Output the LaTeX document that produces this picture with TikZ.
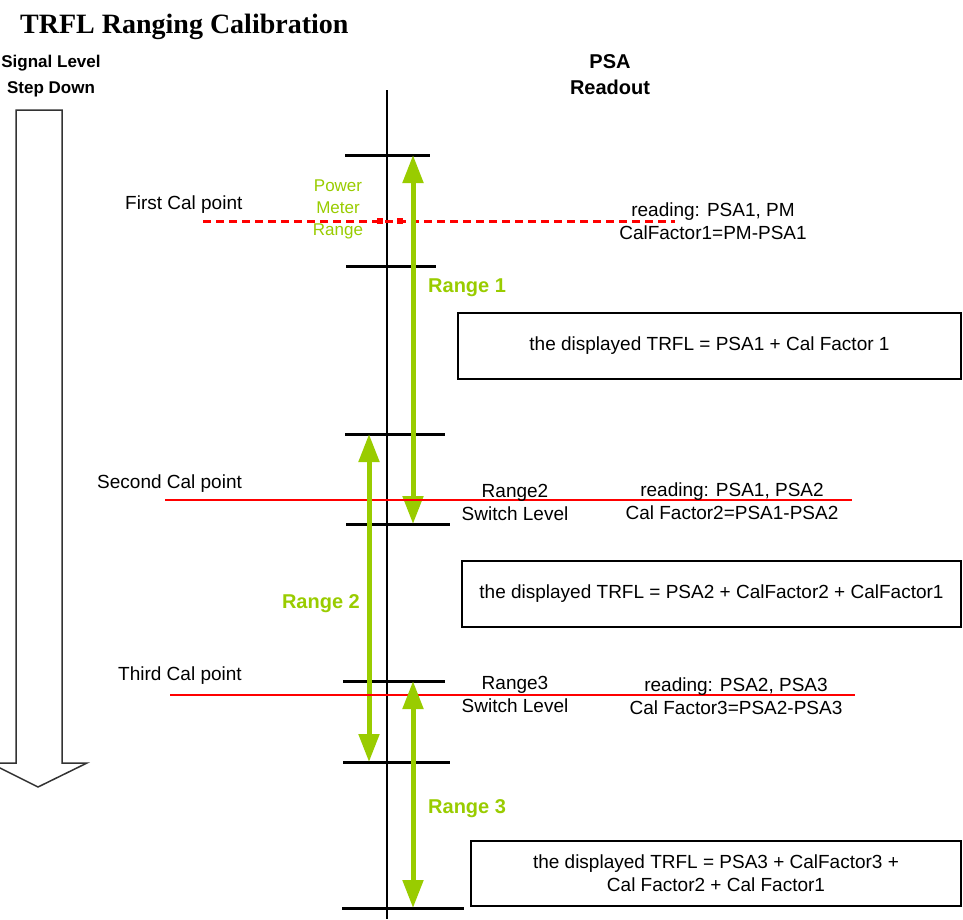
\documentclass[tikz,border=0pt]{standalone}
\usepackage{fontspec}
\setmainfont{Liberation Sans}
\newfontfamily\titlefont{Liberation Serif}
\usetikzlibrary{arrows.meta}
\definecolor{rngreen}{HTML}{99CC00}
\definecolor{calred}{HTML}{FF0000}
\definecolor{arrowgray}{HTML}{333333}

\begin{document}
\begin{tikzpicture}[
  x=1pt,y=-1pt,
  font=\fontsize{19}{23}\selectfont,
  lbl/.style={align=center,inner sep=0pt},
  hdr/.style={font=\fontsize{20}{26}\selectfont\bfseries,align=center,inner sep=0pt},
  rng/.style={font=\fontsize{20}{24}\selectfont\bfseries,text=rngreen,inner sep=0pt},
  tick/.style={line width=3pt},
  rarrow/.style={rngreen,line width=5pt,{Triangle[width=20pt,length=28pt]}-{Triangle[width=20pt,length=28pt]}},
  calline/.style={calred,line width=1.2pt},
  trflbox/.style={rectangle,draw,line width=1.2pt,align=center,inner sep=0pt},
]
\useasboundingbox (0,0) rectangle (963,919);
\clip (0,0) rectangle (963,919);

\node[anchor=base west,inner sep=0pt,font=\titlefont\fontsize{28}{30}\selectfont\bfseries] (title) at (20,33) {TRFL Ranging Calibration};

% step down arrow
\node[hdr,font=\fontsize{17}{26}\selectfont\bfseries] (sig) at (51,76) {Signal Level\\Step Down};
\draw[arrowgray,line width=1.5pt] (16,110) -- (62,110) -- (62,763) -- (87,763) -- (38,787) -- (-10,763) -- (16,763) -- cycle;

% readout axis
\node[hdr] (psa) at (610,75) {PSA\\Readout};
\coordinate (axtop) at (387,90);
\coordinate (axbot) at (387,919);
\draw[line width=1.2pt] (axtop) -- (axbot);

% levels
\coordinate (lv1) at (387,155);
\coordinate (lv2) at (387,266);
\coordinate (lv3) at (387,434);
\coordinate (lv4) at (387,524);
\coordinate (lv5) at (387,681);
\coordinate (lv6) at (387,762);
\coordinate (lv7) at (387,908);
\draw[tick] ([xshift=-42pt]lv1) -- ([xshift=43pt]lv1);
\draw[tick] ([xshift=-41pt]lv2) -- ([xshift=49pt]lv2);
\draw[tick] ([xshift=-42pt]lv3) -- ([xshift=58pt]lv3);
\draw[tick] ([xshift=-41pt]lv4) -- ([xshift=63pt]lv4);
\draw[tick] ([xshift=-44pt]lv5) -- ([xshift=58pt]lv5);
\draw[tick] ([xshift=-44pt]lv6) -- ([xshift=63pt]lv6);
\draw[tick] ([xshift=-45pt]lv7) -- ([xshift=77pt]lv7);

% first cal point
\node[lbl,anchor=west] (cal1) at (125,205) {First Cal point};
\coordinate (c1a) at (203,221);
\coordinate (c1b) at (675,221);
\draw[calred,line width=3pt,dash pattern=on 8pt off 5pt] (c1a) -- (c1b);
\fill[calred] (377,218) rectangle (383,224);
\fill[calred] (397,218) rectangle (403,224);
\node[lbl,text=rngreen,font=\fontsize{17}{22}\selectfont] (pmr) at (338,209) {Power\\Meter\\Range};
\node[lbl] (rd1) at (713,221) {reading: PSA1, PM\\CalFactor1=PM-PSA1};

% range 1
\draw[rarrow] ([xshift=26pt]lv1) -- ([xshift=26pt]lv4);
\node[rng,anchor=west] (r1) at (428,288) {Range 1};
\node[trflbox,minimum width=503pt,minimum height=66pt] (box1) at (709.5,346) {the displayed TRFL = PSA1 + Cal Factor 1};

% second cal point
\node[lbl,anchor=west] (cal2) at (97,484) {Second Cal point};
\coordinate (c2a) at (165,500);
\coordinate (c2b) at (852,500);
\draw[calline] (c2a) -- (c2b);
\node[lbl] (sw2) at (515,502) {Range2\\Switch Level};
\node[lbl] (rd2) at (732,501) {reading: PSA1, PSA2\\Cal Factor2=PSA1-PSA2};

% range 2
\draw[rarrow] ([xshift=-18pt]lv3) -- ([xshift=-18pt]lv6);
\node[rng,anchor=east] (r2) at (360,604) {Range 2};
\node[trflbox,minimum width=499pt,minimum height=66pt] (box2) at (711.5,594) {the displayed TRFL = PSA2 + CalFactor2 + CalFactor1};

% third cal point
\node[lbl,anchor=west] (cal3) at (118,676) {Third Cal point};
\coordinate (c3a) at (170,695);
\coordinate (c3b) at (855,695);
\draw[calline] (c3a) -- (c3b);
\node[lbl] (sw3) at (515,694) {Range3\\Switch Level};
\node[lbl] (rd3) at (736,696) {reading: PSA2, PSA3\\Cal Factor3=PSA2-PSA3};

% range 3
\draw[rarrow] ([xshift=26pt]lv5) -- ([xshift=26pt]lv7);
\node[rng,anchor=west] (r3) at (428,809) {Range 3};
\node[trflbox,minimum width=490pt,minimum height=65pt] (box3) at (716,873.5) {the displayed TRFL = PSA3 + CalFactor3 +\\Cal Factor2 + Cal Factor1};
\end{tikzpicture}
\end{document}
